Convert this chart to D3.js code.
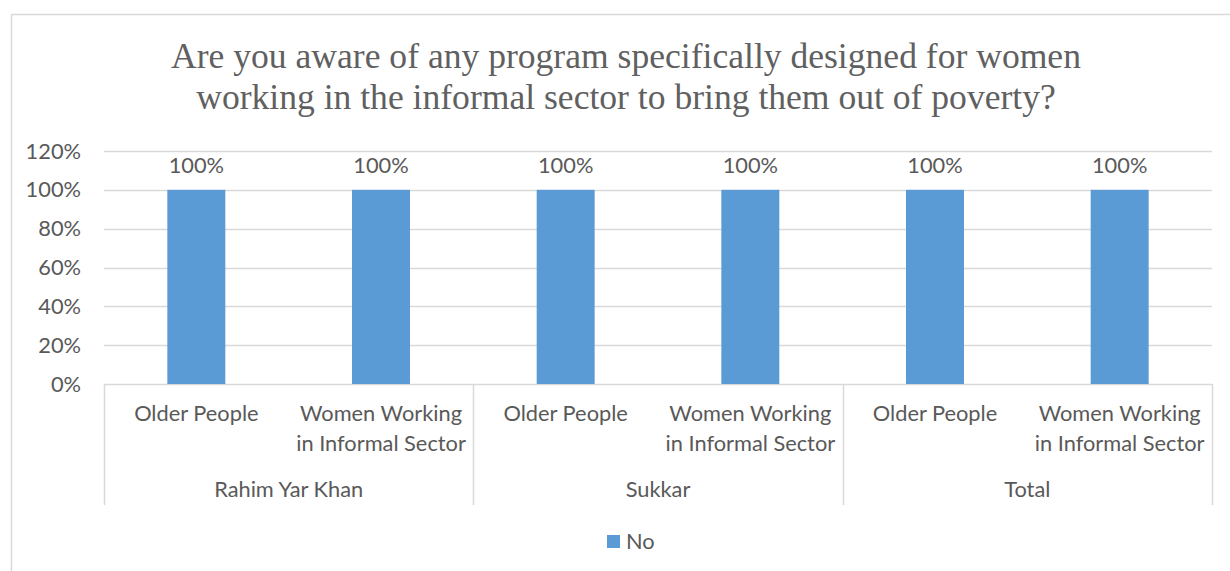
<!DOCTYPE html>
<html>
<head>
<meta charset="utf-8">
<script src="https://cdn.jsdelivr.net/npm/d3@7"></script>
<style>
  html, body { margin: 0; padding: 0; background: #fff; }
  svg { display: block; }
</style>
</head>
<body>
<svg id="chart" width="1230" height="571"></svg>
<script>
// Survey answers, one bar per respondent type within each district
const titleLines = [
  "Are you aware of any program specifically designed for women",
  "working in the informal sector to bring them out of poverty?"
];
const districts = ["Rahim Yar Khan", "Sukkar", "Total"];
const respondentTypes = [["Older People"], ["Women Working", "in Informal Sector"]];
const seriesName = "No";
const noValues = [100, 100, 100, 100, 100, 100];
const yTicks = [0, 20, 40, 60, 80, 100, 120];

const svg = d3.select("#chart");
const W = 1230, H = 571;
const plot = { left: 104, right: 1212, top: 151, bottom: 384 };
const textColor = "#595959";
const lineColor = "#d9d9d9";
const barColor = "#5b9bd5";
const sansFont = "Lato, 'Open Sans', sans-serif";
const sansSize = 21.8;

svg.append("rect").attr("width", W).attr("height", H).attr("fill", "#fff");
// Chart frame
svg.append("rect")
  .attr("x", 11.5).attr("y", 14.5)
  .attr("width", W).attr("height", H)
  .attr("fill", "none").attr("stroke", lineColor).attr("stroke-width", 1.5);

// Title
svg.append("text")
  .attr("text-anchor", "middle")
  .attr("font-family", "'Liberation Serif', 'DejaVu Serif', serif")
  .attr("font-size", 35.6)
  .attr("fill", "#606060")
  .selectAll("tspan").data(titleLines).join("tspan")
  .attr("x", 626)
  .attr("y", (d, i) => 68 + i * 41)
  .text(d => d);

// Flatten bars: each district x respondent type
const bars = [];
districts.forEach((g, gi) => respondentTypes.forEach((c, ci) => {
  bars.push({ key: gi * respondentTypes.length + ci, district: g, lines: c, value: noValues[gi * respondentTypes.length + ci] });
}));

const x = d3.scaleBand()
  .domain(bars.map(d => d.key))
  .range([plot.left, plot.right])
  .paddingInner(0.686)
  .paddingOuter(0.343);
const y = d3.scaleLinear().domain([0, 120]).range([plot.bottom, plot.top]);

// Gridlines
svg.append("g").selectAll("line").data(yTicks).join("line")
  .attr("x1", plot.left).attr("x2", plot.right)
  .attr("y1", d => Math.round(y(d)) + 0.5).attr("y2", d => Math.round(y(d)) + 0.5)
  .attr("stroke", lineColor).attr("stroke-width", 1.5);

// Y axis labels
svg.append("g").selectAll("text").data(yTicks).join("text")
  .attr("x", 81).attr("y", d => y(d) + 7.5)
  .attr("text-anchor", "end")
  .attr("font-family", sansFont).attr("font-size", sansSize)
  .attr("fill", textColor)
  .text(d => d + "%");

// Bars
svg.append("g").selectAll("rect").data(bars).join("rect")
  .attr("x", d => x(d.key)).attr("width", x.bandwidth())
  .attr("y", d => y(d.value)).attr("height", d => y(0) - y(d.value))
  .attr("fill", barColor);

// Value labels
svg.append("g").selectAll("text").data(bars).join("text")
  .attr("x", d => x(d.key) + x.bandwidth() / 2)
  .attr("y", d => y(d.value) - 17)
  .attr("text-anchor", "middle")
  .attr("font-family", sansFont).attr("font-size", sansSize)
  .attr("fill", textColor)
  .text(d => d.value + "%");

// Multi-level category axis
const step = x.step();
const groupEdges = d3.range(districts.length + 1).map(i => plot.left + i * step * respondentTypes.length);
svg.append("g").selectAll("line").data(groupEdges).join("line")
  .attr("x1", d => Math.round(d) + 0.5).attr("x2", d => Math.round(d) + 0.5)
  .attr("y1", plot.bottom).attr("y2", 505)
  .attr("stroke", lineColor).attr("stroke-width", 1.5);

svg.append("g").selectAll("text").data(bars).join("text")
  .attr("text-anchor", "middle")
  .attr("font-family", sansFont).attr("font-size", sansSize)
  .attr("fill", textColor)
  .each(function(d) {
    d3.select(this).selectAll("tspan").data(d.lines).join("tspan")
      .attr("x", x(d.key) + x.bandwidth() / 2)
      .attr("y", (t, i) => 421 + i * 30)
      .text(t => t);
  });

svg.append("g").selectAll("text").data(districts).join("text")
  .attr("x", (d, i) => (groupEdges[i] + groupEdges[i + 1]) / 2)
  .attr("y", 497)
  .attr("text-anchor", "middle")
  .attr("font-family", sansFont).attr("font-size", sansSize)
  .attr("fill", textColor)
  .text(d => d);

// Legend
const legend = svg.append("g").attr("transform", "translate(607,535)");
legend.append("rect").attr("width", 13).attr("height", 13).attr("fill", barColor);
legend.append("text").attr("x", 19).attr("y", 14)
  .attr("font-family", sansFont).attr("font-size", sansSize)
  .attr("fill", textColor).text(seriesName);
</script>
</body>
</html>
